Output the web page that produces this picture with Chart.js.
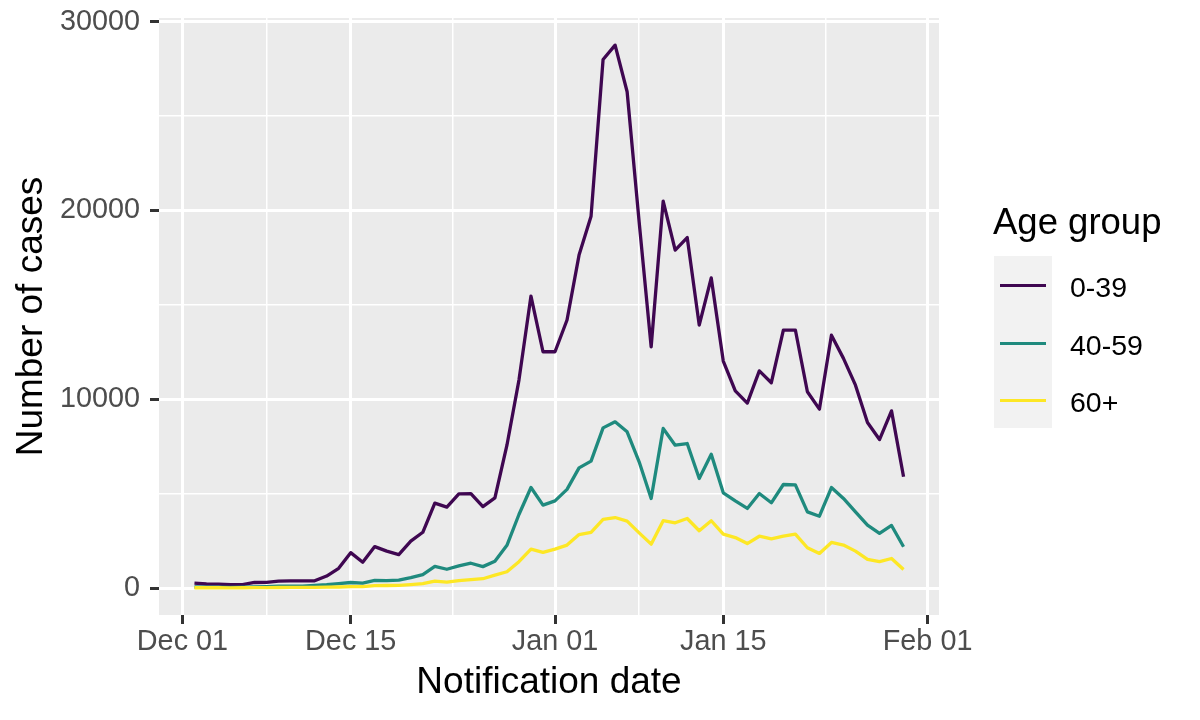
<!DOCTYPE html>
<html>
<head>
<meta charset="utf-8">
<title>Number of cases by age group</title>
<script src="https://cdn.jsdelivr.net/npm/chart.js@4.4.1/dist/chart.umd.min.js"></script>
<style>
  html, body { margin: 0; padding: 0; background: #ffffff; }
  #wrap { position: relative; width: 1200px; height: 720px; font-family: "Liberation Sans", Arial, Helvetica, sans-serif; }
  #casesChart { position: absolute; left: 0; top: 0; }
  .legend-title { position: absolute; left: 993px; top: 201px; font-size: 36.5px; line-height: 42px; color: #000; white-space: nowrap; }
  .legend-keys { position: absolute; left: 994px; top: 256px; width: 58px; height: 172px; background: #f2f2f2; }
  .legend-line { position: absolute; left: 1000px; width: 46px; height: 3px; }
  .legend-label { position: absolute; left: 1070px; font-size: 28.5px; line-height: 34px; color: #000; white-space: nowrap; }
</style>
</head>
<body>
<div id="wrap">
  <canvas id="casesChart" width="1200" height="720"></canvas>
  <div id="legend"></div>
</div>
<script>
// -------------------------------------------------------
// data
// -------------------------------------------------------
const dates = [
  "2021-12-02", "2021-12-03", "2021-12-04", "2021-12-05", "2021-12-06", "2021-12-07",
  "2021-12-08", "2021-12-09", "2021-12-10", "2021-12-11", "2021-12-12", "2021-12-13",
  "2021-12-14", "2021-12-15", "2021-12-16", "2021-12-17", "2021-12-18", "2021-12-19",
  "2021-12-20", "2021-12-21", "2021-12-22", "2021-12-23", "2021-12-24", "2021-12-25",
  "2021-12-26", "2021-12-27", "2021-12-28", "2021-12-29", "2021-12-30", "2021-12-31",
  "2022-01-01", "2022-01-02", "2022-01-03", "2022-01-04", "2022-01-05", "2022-01-06",
  "2022-01-07", "2022-01-08", "2022-01-09", "2022-01-10", "2022-01-11", "2022-01-12",
  "2022-01-13", "2022-01-14", "2022-01-15", "2022-01-16", "2022-01-17", "2022-01-18",
  "2022-01-19", "2022-01-20", "2022-01-21", "2022-01-22", "2022-01-23", "2022-01-24",
  "2022-01-25", "2022-01-26", "2022-01-27", "2022-01-28", "2022-01-29", "2022-01-30"
];

const cases0to39 = [
  270, 220, 210, 180, 190, 300, 310, 370, 380, 380, 390, 640,
  1050, 1880, 1370, 2200, 1960, 1780, 2490, 2960, 4500, 4290, 4990, 5010,
  4320, 4780, 7570, 11020, 15470, 12520, 12520, 14200, 17640, 19700, 28000, 28760,
  26290, 19400, 12780, 20500, 17900, 18570, 13930, 16430, 12030, 10450, 9800, 11510,
  10880, 13670, 13670, 10400, 9480, 13400, 12170, 10750, 8770, 7870, 9390, 5900
];

const cases40to59 = [
  60, 50, 50, 40, 50, 70, 80, 100, 100, 110, 140, 180,
  240, 300, 270, 410, 400, 420, 560, 720, 1150, 1000, 1180, 1320,
  1140, 1420, 2270, 3900, 5330, 4400, 4620, 5230, 6370, 6730, 8490, 8810,
  8280, 6690, 4750, 8460, 7570, 7660, 5810, 7090, 5050, 4620, 4220, 5010,
  4520, 5490, 5470, 4040, 3810, 5330, 4750, 4040, 3340, 2900, 3320, 2190
];

const cases60plus = [
  20, 20, 20, 15, 20, 25, 30, 35, 40, 40, 45, 50,
  60, 80, 80, 130, 140, 150, 190, 240, 370, 320, 400, 450,
  500, 690, 870, 1400, 2070, 1890, 2070, 2280, 2840, 2950, 3640, 3740,
  3550, 2930, 2330, 3570, 3460, 3690, 3040, 3570, 2860, 2680, 2360, 2750,
  2610, 2750, 2860, 2140, 1840, 2420, 2280, 1960, 1520, 1400, 1570, 990
];

const groups = ["0-39", "40-59", "60+"];
const groupColors = ["#3f0751", "#1f8a7e", "#FDE725"];

const xTickDates = ["2021-12-01", "2021-12-15", "2022-01-01", "2022-01-15", "2022-02-01"];
const xTickLabels = ["Dec 01", "Dec 15", "Jan 01", "Jan 15", "Feb 01"];
const yTicks = [0, 10000, 20000, 30000];

// -------------------------------------------------------
// helpers: dates -> day numbers, ggplot style 5% expansion
// -------------------------------------------------------
const DAY_MS = 86400000;
const origin = Date.parse(xTickDates[0]);
const toDay = (s) => (Date.parse(s) - origin) / DAY_MS;

const days = dates.map(toDay);
const allSeries = [cases0to39, cases40to59, cases60plus];

const xLo = Math.min(...days), xHi = Math.max(...days);
const yLo = Math.min(...allSeries.flat()), yHi = Math.max(...allSeries.flat());
const xPad = (xHi - xLo) * 0.05, yPad = (yHi - yLo) * 0.05;

// major ticks + minor ticks halfway between them (like ggplot)
function withMinor(majorValues, majorTexts) {
  const out = majorValues.map((v, i) => ({ value: v, text: majorTexts[i], isMinor: false }));
  for (let i = 0; i < majorValues.length - 1; i++) {
    out.push({ value: (majorValues[i] + majorValues[i + 1]) / 2, text: "", isMinor: true });
  }
  return out.sort((a, b) => a.value - b.value);
}

const xTickObjs = withMinor(xTickDates.map(toDay), xTickLabels);
const yTickObjs = withMinor(yTicks, yTicks.map(String));

const tickFont = { family: "'Liberation Sans', Arial, sans-serif", size: 28.8 };
const titleFont = { family: "'Liberation Sans', Arial, sans-serif", size: 37 };

const gridOpts = {
  color: "#ffffff",
  lineWidth: (ctx) => (ctx.tick && ctx.tick.isMinor ? 1.5 : 3),
  drawTicks: true,
  tickLength: 9,
  tickWidth: 3,
  tickColor: (ctx) => (ctx.tick && ctx.tick.isMinor ? "rgba(0,0,0,0)" : "#333333"),
};

// grey panel behind the grid
const panelBackground = {
  id: "panelBackground",
  beforeDraw(chart) {
    const { ctx, chartArea: a } = chart;
    ctx.save();
    ctx.fillStyle = "#ebebeb";
    ctx.fillRect(a.left, a.top, a.right - a.left, a.bottom - a.top);
    ctx.restore();
  },
};

// keep the panel exactly where the layout padding puts it
const noLabelPadding = (scale) => {
  scale.paddingTop = 0;
  scale.paddingBottom = 0;
  scale.paddingLeft = 0;
  scale.paddingRight = 0;
};

// -------------------------------------------------------
// chart
// -------------------------------------------------------
new Chart(document.getElementById("casesChart"), {
  type: "line",
  data: {
    datasets: groups.map((g, k) => ({
      label: g,
      data: days.map((d, i) => ({ x: d, y: allSeries[k][i] })),
      borderColor: groupColors[k],
      backgroundColor: groupColors[k],
      borderWidth: 3.3,
      borderJoinStyle: "round",
      pointRadius: 0,
      tension: 0,
      fill: false,
      order: groups.length - k,
    })),
  },
  options: {
    responsive: false,
    animation: false,
    events: [],
    layout: { autoPadding: false, padding: { top: 18, right: 261, left: 0, bottom: 0 } },
    plugins: { legend: { display: false }, tooltip: { enabled: false } },
    scales: {
      x: {
        type: "linear",
        bounds: "data",
        min: xLo - xPad,
        max: xHi + xPad,
        afterBuildTicks: (scale) => { scale.ticks = xTickObjs.map((t) => ({ ...t })); },
        afterFit: (scale) => { scale.height = 105; noLabelPadding(scale); },
        ticks: {
          autoSkip: false,
          maxRotation: 0,
          padding: 1,
          color: "#4d4d4d",
          font: tickFont,
          callback: (value, index, ticks) => ticks[index].text,
        },
        grid: gridOpts,
        border: { display: false },
        title: { display: true, text: "Notification date", color: "#000000", font: titleFont, padding: { top: 0, bottom: 15 } },
      },
      y: {
        type: "linear",
        bounds: "data",
        min: yLo - yPad,
        max: yHi + yPad,
        afterBuildTicks: (scale) => { scale.ticks = yTickObjs.map((t) => ({ ...t })); },
        afterFit: (scale) => { scale.width = 159; noLabelPadding(scale); },
        ticks: {
          autoSkip: false,
          padding: 10,
          color: "#4d4d4d",
          font: tickFont,
          callback: (value, index, ticks) => ticks[index].text,
        },
        grid: gridOpts,
        border: { display: false },
        title: { display: true, text: "Number of cases", color: "#000000", font: titleFont, padding: { top: 10, bottom: 0 } },
      },
    },
  },
  plugins: [panelBackground],
});

// -------------------------------------------------------
// legend (ggplot style: title, grey key box, line keys)
// -------------------------------------------------------
const legend = document.getElementById("legend");
const rowPitch = 57.5;
let html = '<div class="legend-title">Age group</div><div class="legend-keys"></div>';
groups.forEach((g, k) => {
  const lineY = 284 + k * rowPitch;
  html += '<div class="legend-line" style="top:' + lineY + 'px;background:' + groupColors[k] + '"></div>';
  html += '<div class="legend-label" style="top:' + (270 + k * rowPitch) + 'px">' + g + '</div>';
});
legend.innerHTML = html;
</script>
</body>
</html>
